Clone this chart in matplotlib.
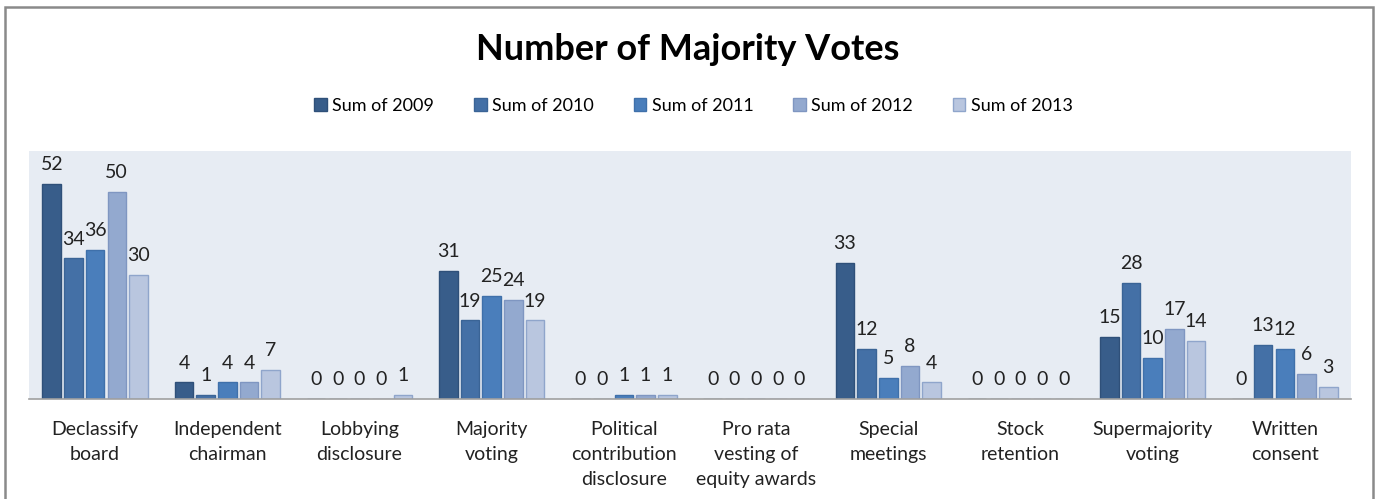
import matplotlib.pyplot as plt
import matplotlib.patches as mpatches
import numpy as np

plt.rcParams['font.family'] = ['Lato', 'DejaVu Sans']

categories = ['Declassify\nboard', 'Independent\nchairman', 'Lobbying\ndisclosure',
              'Majority\nvoting', 'Political\ncontribution\ndisclosure',
              'Pro rata\nvesting of\nequity awards', 'Special\nmeetings',
              'Stock\nretention', 'Supermajority\nvoting', 'Written\nconsent']
series = ['Sum of 2009', 'Sum of 2010', 'Sum of 2011', 'Sum of 2012', 'Sum of 2013']
v2009 = [52, 4, 0, 31, 0, 0, 33, 0, 15, 0]
v2010 = [34, 1, 0, 19, 0, 0, 12, 0, 28, 13]
v2011 = [36, 4, 0, 25, 1, 0, 5, 0, 10, 12]
v2012 = [50, 4, 0, 24, 1, 0, 8, 0, 17, 6]
v2013 = [30, 7, 1, 19, 1, 0, 4, 0, 14, 3]
values = [v2009, v2010, v2011, v2012, v2013]

colors = ['#385D8A', '#4470A6', '#4A7EBB', '#93A9CF', '#B9C6DF']
edges = ['#2F5079', '#3A6496', '#3F70AA', '#7F96C1', '#8FA5CB']

fig = plt.figure(figsize=(13.76, 4.99), dpi=100)
ax = fig.add_axes([29/1376, 1 - 399/499, (1351 - 29)/1376, (399 - 151)/499])
ax.set_facecolor('#E7ECF3')

x = np.arange(len(categories))
pitch = 0.164
width = 0.14
for i, (name, vals) in enumerate(zip(series, values)):
    pos = x + (i - 2) * pitch
    bars = ax.bar(pos, vals, width, color=colors[i], edgecolor=edges[i],
                  linewidth=1, label=name, zorder=2)
    for b, v in zip(bars, vals):
        ax.annotate(str(v), (b.get_x() + b.get_width() / 2, v),
                    xytext=(0, 14), textcoords='offset points',
                    ha='center', va='center', fontsize=14, color='#222222')

ax.set_xlim(-0.5, len(categories) - 0.5)
ax.set_ylim(0, 60)
ax.set_yticks([])
ax.set_xticks(x)
ax.set_xticklabels(categories, fontsize=14, color='#222222')
for t in ax.get_xticklabels():
    t.set_linespacing(1.6)
ax.tick_params(axis='x', length=0, pad=15.5)
for s in ['top', 'right', 'left']:
    ax.spines[s].set_visible(False)
ax.spines['bottom'].set_color('#A0A0A0')
ax.spines['bottom'].set_linewidth(1.2)

fig.text(0.5, 1 - 49/499, 'Number of Majority Votes', ha='center', va='center',
         fontsize=26, fontweight='bold', color='black')

fig.legend(loc='center', bbox_to_anchor=(0.504, 1 - 106/499), ncol=5, frameon=False,
           fontsize=13, handlelength=0.7, handleheight=0.7, handletextpad=0.3,
           columnspacing=2.2)

border = mpatches.Rectangle((5/1376, -0.05), (1373 - 5)/1376, 1.05 - 7/499,
                            transform=fig.transFigure, fill=False,
                            edgecolor='#8A8A8A', linewidth=1.8)
fig.patches.append(border)

fig.savefig('out.png', dpi=100)
